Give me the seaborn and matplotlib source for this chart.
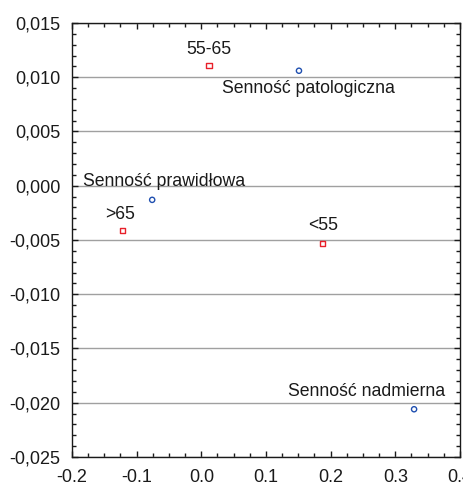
import matplotlib
matplotlib.use("Agg")
import matplotlib.pyplot as plt
import seaborn as sns
import pandas as pd
from matplotlib.ticker import MultipleLocator, FuncFormatter

sns.set_style("ticks")
plt.rcParams['font.family'] = ['Liberation Sans', 'DejaVu Sans']

age_labels = ["55-65", ">65", "<55"]
age_x = [0.012, -0.122, 0.188]
age_y = [0.0111, -0.0041, -0.0053]

sleep_labels = ["Senność patologiczna", "Senność prawidłowa", "Senność nadmierna"]
sleep_x = [0.151, -0.076, 0.329]
sleep_y = [0.0106, -0.0013, -0.0206]

# label offsets in points (dx, dy)
age_off = [(0, 11.5), (-1.5, 11), (0, 13)]
sleep_off = [(6.5, -13), (8.3, 13), (-34.5, 12.6)]

age = pd.DataFrame({"x": age_x, "y": age_y, "label": age_labels})
sleep = pd.DataFrame({"x": sleep_x, "y": sleep_y, "label": sleep_labels})

fig = plt.figure(figsize=(4.63, 4.86), dpi=100)
ax = fig.add_axes([0.1555, 0.0597, 0.838, 0.893])

ax.grid(axis="y", color="#a0a0a0", lw=1.0, zorder=0)
ax.set_axisbelow(True)

sns.scatterplot(data=age, x="x", y="y", marker="s", s=14, facecolor="none",
                edgecolor="#e8202a", linewidth=1.0, ax=ax, zorder=3)
sns.scatterplot(data=sleep, x="x", y="y", marker="o", s=14, facecolor="none",
                edgecolor="#1f4fb0", linewidth=1.0, ax=ax, zorder=3)

for df, offs in ((age, age_off), (sleep, sleep_off)):
    for (_, r), (dx, dy) in zip(df.iterrows(), offs):
        ax.annotate(r["label"], (r["x"], r["y"]), xytext=(dx, dy),
                    textcoords="offset points", ha="center", va="center",
                    fontsize=12.7, color="#1a1a1a", zorder=4)

ax.set_xlim(-0.2, 0.4)
ax.set_ylim(-0.025, 0.015)
ax.xaxis.set_major_locator(MultipleLocator(0.1))
ax.xaxis.set_minor_locator(MultipleLocator(0.025))
ax.yaxis.set_major_locator(MultipleLocator(0.005))
ax.yaxis.set_minor_locator(MultipleLocator(0.001))
ax.xaxis.set_major_formatter(FuncFormatter(lambda v, p: "0.0" if abs(v) < 1e-9 else f"{v:.1f}"))
ax.yaxis.set_major_formatter(FuncFormatter(lambda v, p: ("0,000" if abs(v) < 1e-9 else f"{v:.3f}".replace(".", ","))))
ax.tick_params(which="both", direction="in", top=True, right=True, colors="#1a1a1a", labelsize=13)
ax.tick_params(which="major", length=4, width=1)
ax.tick_params(which="minor", length=3, width=1)
ax.tick_params(axis="x", pad=8.5)
ax.tick_params(axis="y", pad=8.5)
for sp in ax.spines.values():
    sp.set_color("#1a1a1a")
    sp.set_linewidth(1.0)
ax.set_xlabel("")
ax.set_ylabel("")

fig.savefig("out.png", dpi=100)
